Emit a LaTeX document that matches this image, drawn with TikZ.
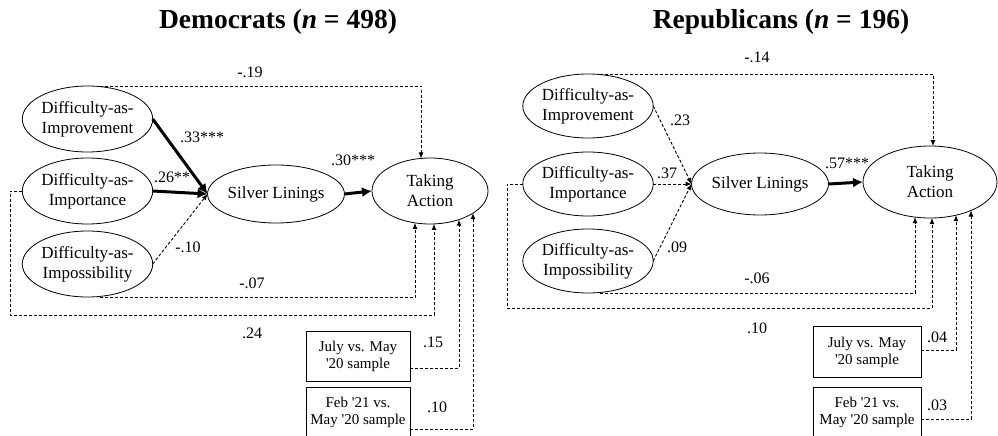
\documentclass[tikz,border=0pt]{standalone}
\usepackage{fontspec}
\setmainfont{Liberation Serif}
\usetikzlibrary{shapes.geometric,arrows.meta,calc}
\tikzset{
  ell/.style={ellipse, draw, line width=0.8pt, inner sep=0pt, outer sep=0pt, align=center, font=\fontsize{17}{20}\selectfont},
  lell/.style={ell, minimum width=124pt, minimum height=66pt},
  rell/.style={ell, minimum width=130pt, minimum height=64pt},
  samplebox/.style={rectangle, draw, line width=0.8pt, inner sep=0pt, outer sep=0pt, align=center, font=\fontsize{15}{17}\selectfont},
  lab/.style={font=\fontsize{16}{19}\selectfont, inner sep=0pt},
  ttl/.style={font=\fontsize{27.5}{33}\selectfont\bfseries, inner sep=0pt},
  thickarrow/.style={line width=3pt, -{Latex[length=10pt,width=10pt]}},
  dasharrow/.style={line width=0.9pt, dash pattern=on 3pt off 2pt, -{Latex[length=6pt,width=5pt]}},
}
\begin{document}
\begin{tikzpicture}[x=1pt,y=-1pt]
\useasboundingbox (0,0) rectangle (998,436);
\clip (0,0) rectangle (998,436);
% ---------------- Democrats ----------------
\node[ttl] (Lttl) at (278,22) {Democrats (\textit{n} = 498)};
\node[lell] (L1) at (87.5,119) {Difficulty-as-\\Improvement};
\node[lell] (L2) at (87.5,191) {Difficulty-as-\\Importance};
\node[lell] (L3) at (87.5,264) {Difficulty-as-\\Impossibility};
\node[ell, minimum width=120pt, minimum height=58pt] (LS) at (276,194) {Silver Linings};
\node[ell, minimum width=116pt, minimum height=66pt] (LT) at (430,191) {Taking\\Action};
\node[samplebox, minimum width=104pt, minimum height=50pt] (LB1) at (358,356) {July vs. May\\\textquotesingle 20 sample};
\node[samplebox, minimum width=104pt, minimum height=50pt] (LB2) at (358,412) {Feb \textquotesingle 21 vs.\\May \textquotesingle 20 sample};
\coordinate (Lt1) at ($(LT.center)+(-9,-32.6)$);
\coordinate (Lt2) at ($(LT.center)+(-15,31.9)$);
\coordinate (Lt3) at ($(LT.center)+(4,32.9)$);
\coordinate (Lt4) at ($(LT.center)+(29,28.6)$);
\coordinate (Lt5) at ($(LT.center)+(43,22.1)$);
\coordinate (Lc1) at (10,315);
\draw[thickarrow] (L1.east) -- (LS.west);
\draw[thickarrow] (L2.east) -- (LS.west);
\draw[dasharrow] (L3.east) -- (LS.west);
\draw[thickarrow] (LS.east) -- (LT.west);
\draw[dasharrow] ([xshift=12pt]L1.north) -| (Lt1);
\draw[dasharrow] ([xshift=12pt]L3.south) -| (Lt2);
\draw[dasharrow] (L2.west) -| (Lc1) -| (Lt3);
\draw[dasharrow] ([yshift=-12pt]LB1.east) -| (Lt4);
\draw[dasharrow] ([yshift=-17pt]LB2.east) -| (Lt5);
\node[lab] at (250,72) {-.19};
\node[lab] at (202,137) {.33***};
\node[lab] at (172,177) {.26**};
\node[lab] at (188,247) {-.10};
\node[lab] at (353,160) {.30***};
\node[lab] at (252,283) {-.07};
\node[lab] at (252,333) {.24};
\node[lab] at (433,342) {.15};
\node[lab] at (437,407) {.10};
% ---------------- Republicans ----------------
\node[ttl] (Rttl) at (781,22) {Republicans (\textit{n} = 196)};
\node[rell] (R1) at (588,106) {Difficulty-as-\\Improvement};
\node[rell] (R2) at (588,184) {Difficulty-as-\\Importance};
\node[rell] (R3) at (588,261) {Difficulty-as-\\Impossibility};
\node[ell, minimum width=135pt, minimum height=62pt] (RS) at (760,184) {Silver Linings};
\node[ell, minimum width=134pt, minimum height=72pt] (RT) at (930,182) {Taking\\Action};
\node[samplebox, minimum width=108pt, minimum height=51pt] (RB1) at (867,352) {July vs. May\\\textquotesingle 20 sample};
\node[samplebox, minimum width=108pt, minimum height=50pt] (RB2) at (867,412) {Feb \textquotesingle 21 vs.\\May \textquotesingle 20 sample};
\coordinate (Rt1) at ($(RT.center)+(3,-36)$);
\coordinate (Rt2) at ($(RT.center)+(-15,35.1)$);
\coordinate (Rt3) at ($(RT.center)+(2,36)$);
\coordinate (Rt4) at ($(RT.center)+(26,33.2)$);
\coordinate (Rt5) at ($(RT.center)+(41,28.5)$);
\coordinate (Rc1) at (507,308);
\draw[dasharrow] (R1.east) -- (RS.west);
\draw[dasharrow] (R2.east) -- (RS.west);
\draw[dasharrow] (R3.east) -- (RS.west);
\draw[thickarrow] (RS.east) -- (RT.west);
\draw[dasharrow] ([xshift=12pt]R1.north) -| (Rt1);
\draw[dasharrow] ([xshift=12pt]R3.south) -| (Rt2);
\draw[dasharrow] (R2.west) -| (Rc1) -| (Rt3);
\draw[dasharrow] ([yshift=2pt]RB1.east) -| (Rt4);
\draw[dasharrow] ([yshift=-7pt]RB2.east) -| (Rt5);
\node[lab] at (757,57) {-.14};
\node[lab] at (680,120) {.23};
\node[lab] at (667,173) {.37};
\node[lab] at (677,247) {.09};
\node[lab] at (847,163) {.57***};
\node[lab] at (757,278) {-.06};
\node[lab] at (757,328) {.10};
\node[lab] at (937,337) {.04};
\node[lab] at (937,405) {.03};
\end{tikzpicture}
\end{document}
